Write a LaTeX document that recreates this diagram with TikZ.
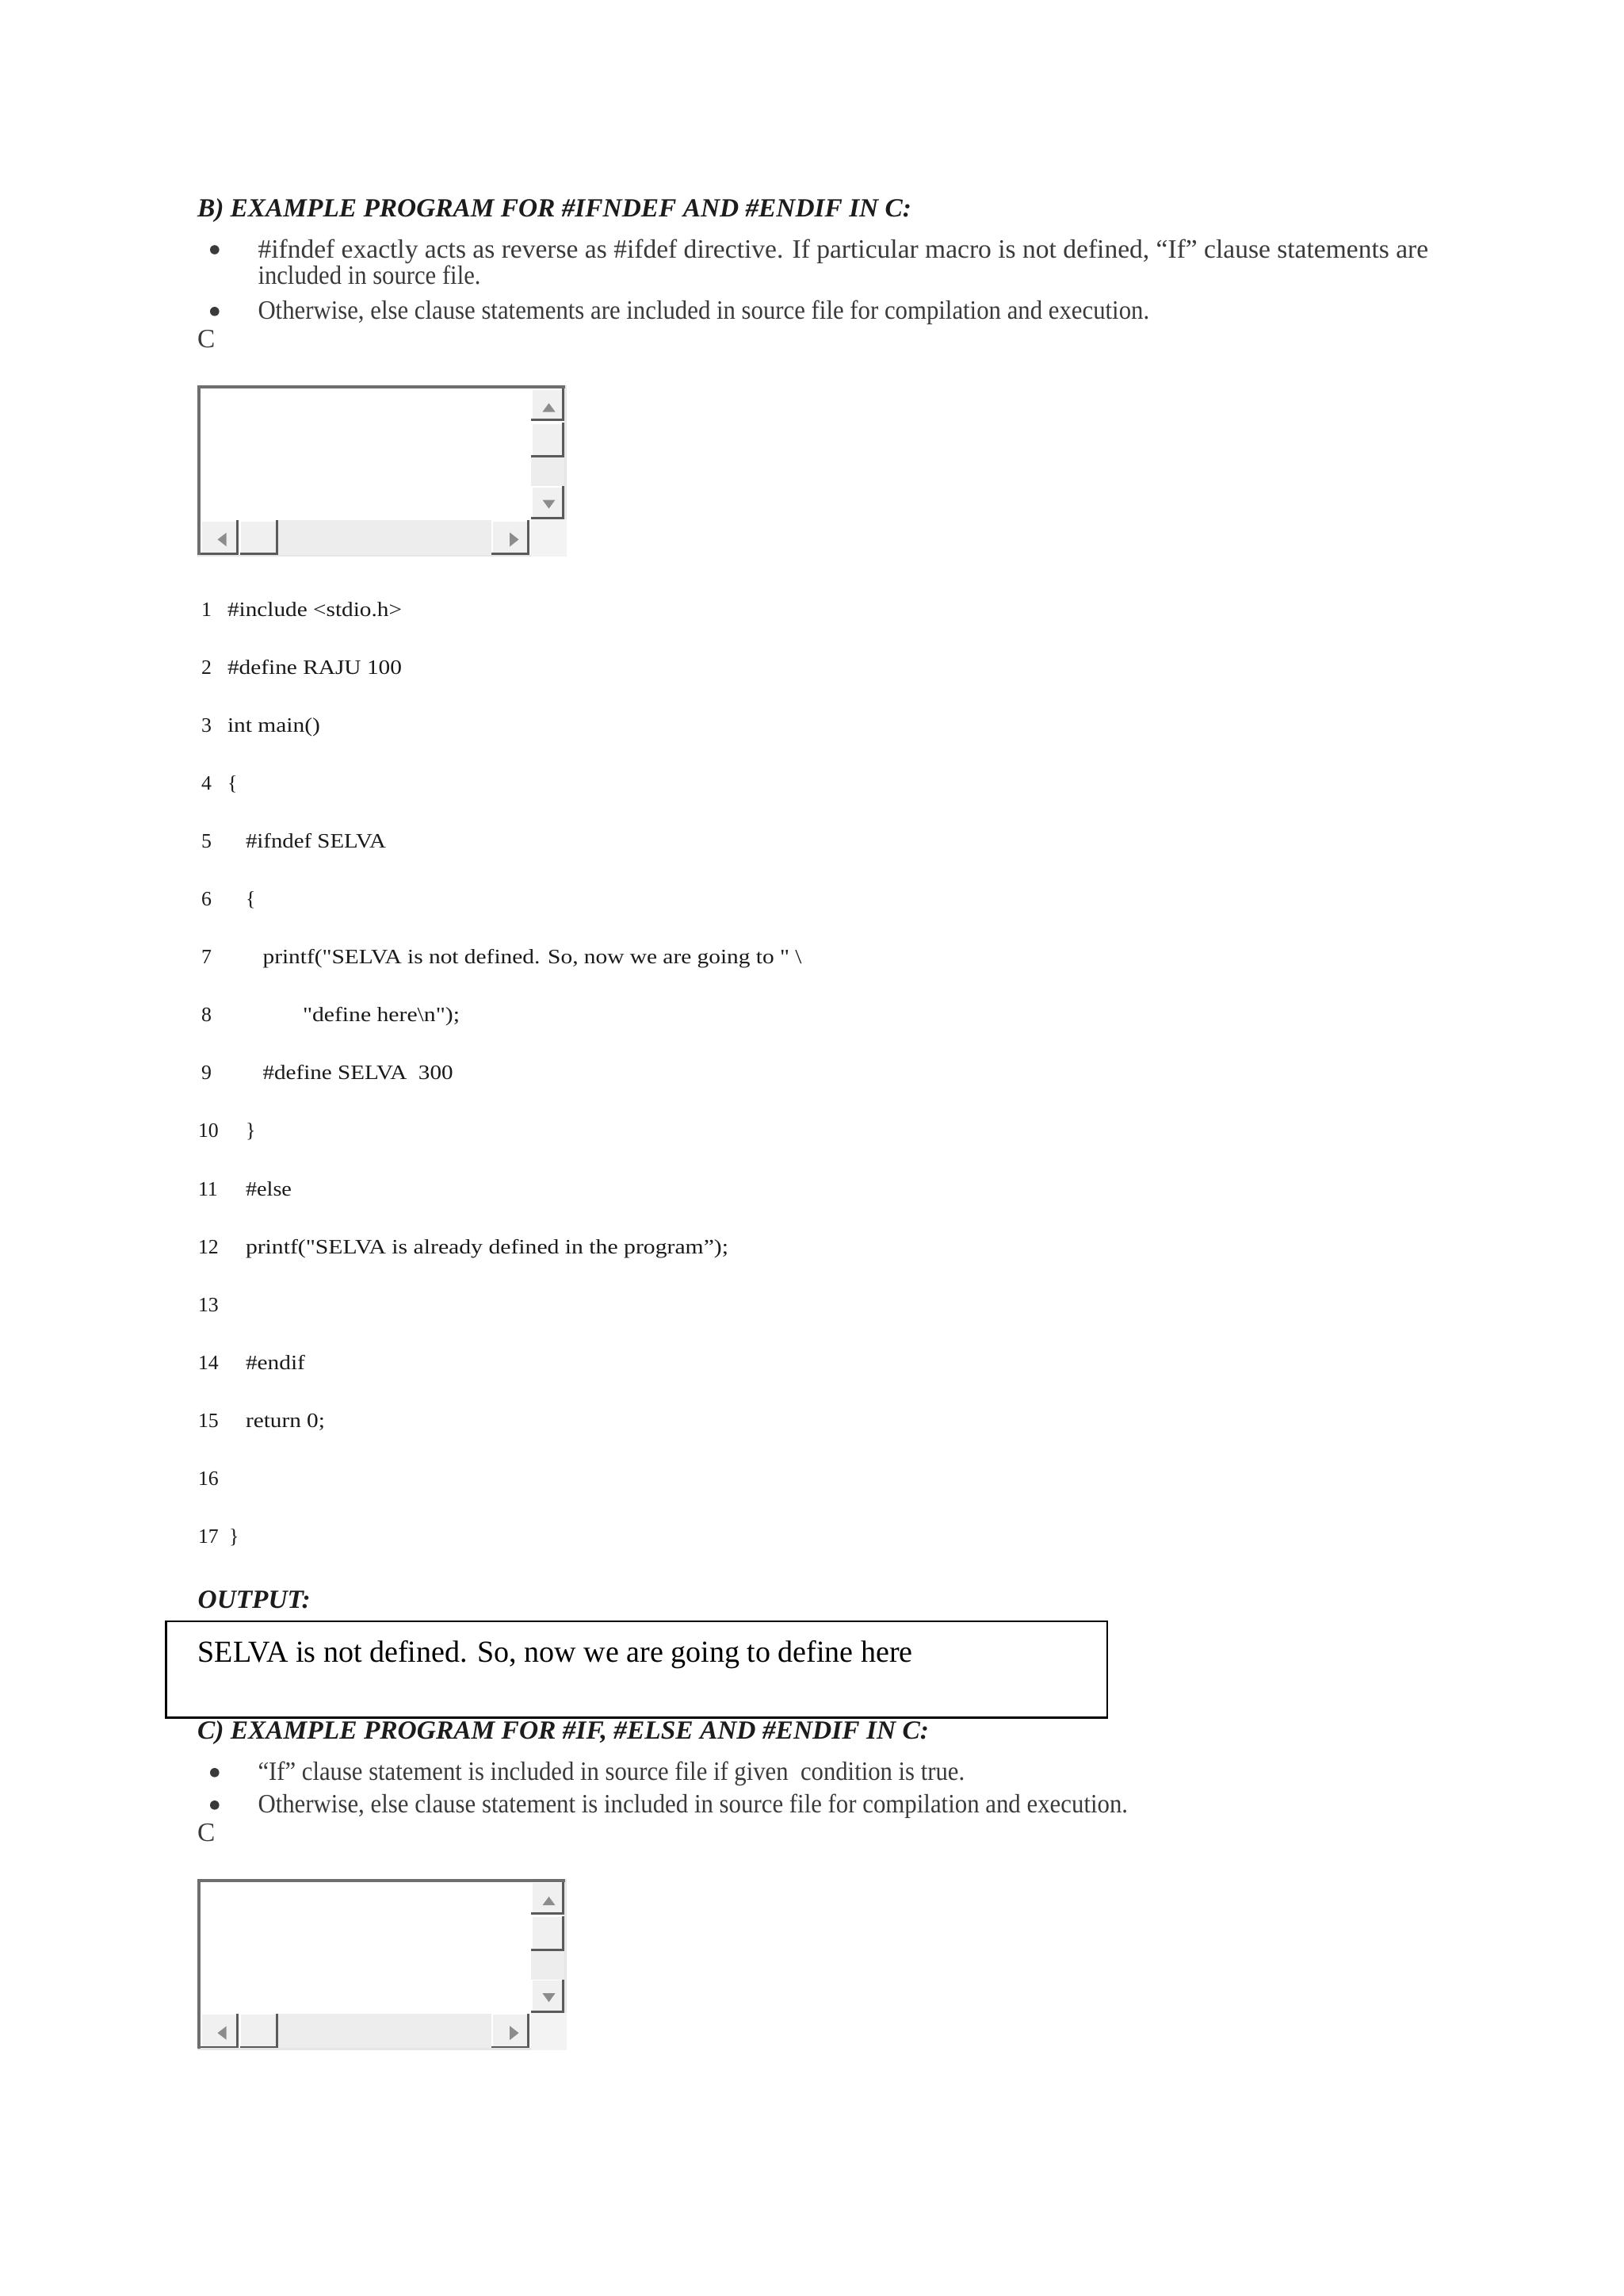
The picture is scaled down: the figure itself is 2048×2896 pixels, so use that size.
\documentclass[tikz,border=0pt]{standalone}
\usepackage{fontspec}
\usepackage{graphicx}
\setmainfont{Liberation Serif}
\newfontfamily\codef[Ligatures=TeXOff]{Liberation Serif}
\newlength\pxu \setlength\pxu{0.290664pt}
\newcommand\fitw[2]{\resizebox{#1\pxu}{\height}{#2}}
\definecolor{headc}{HTML}{1C1C1C}
\definecolor{bodyc}{HTML}{3A3A3A}
\definecolor{codec}{HTML}{1A1A1A}
\definecolor{frmdark}{HTML}{6E6E6E}
\definecolor{frmlight}{HTML}{E6E6E6}
\definecolor{btnfill}{HTML}{F0F0F0}
\definecolor{btnshadow}{HTML}{5A5A5A}
\definecolor{trackc}{HTML}{EDEDED}
\definecolor{arrowc}{HTML}{8C8C8C}
\tikzset{
  txt/.style={anchor=base west, inner sep=0pt, outer sep=0pt},
  head/.style={txt, text=headc, font=\fontsize{9.6}{11}\selectfont\bfseries\itshape},
  body/.style={txt, text=bodyc, font=\fontsize{9.7}{11}\selectfont},
  code/.style={txt, text=codec, font=\fontsize{7.5}{9}\selectfont\codef},
  outtxt/.style={txt, text=black, font=\fontsize{11.2}{13}\selectfont},
  bulletdot/.style={fill=bodyc},
  outbox/.style={draw=black, line width=2.5\pxu},
  arrowtri/.style={fill=arrowc},
}
\newcommand\sbutton[4]{%
  \fill[btnfill] (#1,#2) rectangle (#3,#4);
  \draw[white, line width=1.5\pxu] (#1+1,#4-1) -- (#1+1,#2+1) -- (#3-1,#2+1);
  \draw[btnshadow, line width=2.6\pxu] (#1,#4-1.3) -- (#3-1.3,#4-1.3) -- (#3-1.3,#2);
}
\newcommand\scrollbox[1]{%
  \begin{scope}[shift={(0,#1)}]
    \fill[frmlight] (249,486) rectangle (715,702);
    \fill[white] (253,490) rectangle (712,699.5);
    \fill[frmdark] (249,486) rectangle (713,490);
    \fill[frmdark] (249,486) rectangle (253,700);
    % vertical bar
    \sbutton{670}{490}{712}{531}
    \sbutton{670}{533}{712}{577}
    \fill[trackc] (670,577) rectangle (712,613);
    \sbutton{670}{613}{712}{655}
    \fill[trackc!70!white] (670,655) rectangle (715,702);
    % horizontal bar
    \sbutton{253}{656}{301}{699.5}
    \sbutton{302.5}{656}{351}{699.5}
    \fill[trackc] (351,656) rectangle (620,699.5);
    \sbutton{620}{656}{668}{699.5}
    % arrows
    \fill[arrowc] (692.5,508.5) -- (684.5,519.5) -- (700.5,519.5) -- cycle;
    \fill[arrowc] (684.5,630.5) -- (700.5,630.5) -- (692.5,641.5) -- cycle;
    \fill[arrowc] (274.5,680.5) -- (285.5,672) -- (285.5,689) -- cycle;
    \fill[arrowc] (643,671.5) -- (654.5,680.5) -- (643,689.5) -- cycle;
  \end{scope}}
\begin{document}
\begin{tikzpicture}[x=0.290664pt,y=-0.290664pt]
\useasboundingbox (0,0) rectangle (2048,2896);
\fill[white] (0,0) rectangle (2048,2896);

% ---------- Section B ----------
\node[head] (hb) at (249,273.5) {\fitw{901}{B) EXAMPLE PROGRAM FOR \#IFNDEF AND \#ENDIF IN C:}};
\fill[bulletdot] (270.8,315) circle[radius=5.8\pxu];
\node[body] (b1a) at (325.5,325) {\fitw{1476.5}{\#ifndef exactly acts as reverse as \#ifdef directive. If particular macro is not defined, “If” clause statements are}};
\node[body] (b1b) at (325.5,358.8) {\fitw{281}{included in source file.}};
\fill[bulletdot] (270.8,392.8) circle[radius=5.8\pxu];
\node[body] (b2) at (325.5,402.8) {\fitw{1124.5}{Otherwise, else clause statements are included in source file for compilation and execution.}};
\node[body] (cb) at (249,438) {C};

\scrollbox{0}

% ---------- code ----------
\node[code] (n1) at (254,777.0) {1};
\node[code] (l1) at (287,777.0) {\fitw{220}{\#include <stdio.h>}};
\node[code] (n2) at (254,850.1) {2};
\node[code] (l2) at (287,850.1) {\fitw{220}{\#define RAJU 100}};
\node[code] (n3) at (254,923.2) {3};
\node[code] (l3) at (287,923.2) {\fitw{117}{int main()}};
\node[code] (n4) at (254,996.3) {4};
\node[code] (l4) at (287,996.3) {\{};
\node[code] (n5) at (254,1069.4) {5};
\node[code] (l5) at (310,1069.4) {\fitw{177}{\#ifndef SELVA}};
\node[code] (n6) at (254,1142.5) {6};
\node[code] (l6) at (310,1142.5) {\{};
\node[code] (n7) at (254,1215.6) {7};
\node[code] (l7) at (331.6,1215.6) {\fitw{680}{printf("SELVA is not defined. So, now we are going to " \textbackslash}};
\node[code] (n8) at (254,1288.7) {8};
\node[code] (l8) at (382,1288.7) {\fitw{198}{"define here\textbackslash n");}};
\node[code] (n9) at (254,1361.8) {9};
\node[code] (l9) at (331.6,1361.8) {\fitw{240}{\#define SELVA\ \ 300}};
\node[code] (n10) at (250,1434.9) {10};
\node[code] (l10) at (310,1434.9) {\}};
\node[code] (n11) at (250,1508.0) {11};
\node[code] (l11) at (310,1508.0) {\fitw{58}{\#else}};
\node[code] (n12) at (250,1581.1) {12};
\node[code] (l12) at (310,1581.1) {\fitw{609}{printf("SELVA is already defined in the program”);}};
\node[code] (n13) at (250,1654.2) {13};
\node[code] (n14) at (250,1727.3) {14};
\node[code] (l14) at (310,1727.3) {\fitw{75}{\#endif}};
\node[code] (n15) at (250,1800.4) {15};
\node[code] (l15) at (310,1800.4) {\fitw{100}{return 0;}};
\node[code] (n16) at (250,1873.5) {16};
\node[code] (n17) at (250,1946.6) {17};
\node[code] (l17) at (289,1946.6) {\}};

% ---------- output ----------
\node[head] (hout) at (249.7,2028.5) {\fitw{142}{OUTPUT:}};
\draw[outbox] (209.6,2045) rectangle (1397,2166.5);
\node[outtxt] (otext) at (249.7,2096) {\fitw{902}{SELVA is not defined. So, now we are going to define here}};

% ---------- Section C ----------
\node[head] (hc) at (249,2193) {\fitw{923}{C) EXAMPLE PROGRAM FOR \#IF, \#ELSE AND \#ENDIF IN C:}};
\fill[bulletdot] (270.8,2235.8) circle[radius=5.8\pxu];
\node[body] (c1) at (325.5,2245.8) {\fitw{891.5}{“If” clause statement is included in source file if given\ \ condition is true.}};
\fill[bulletdot] (270.8,2276.8) circle[radius=5.8\pxu];
\node[body] (c2) at (325.5,2286.8) {\fitw{1097.5}{Otherwise, else clause statement is included in source file for compilation and execution.}};
\node[body] (cc) at (249,2322) {C};

\scrollbox{1883.7}
\end{tikzpicture}
\end{document}
